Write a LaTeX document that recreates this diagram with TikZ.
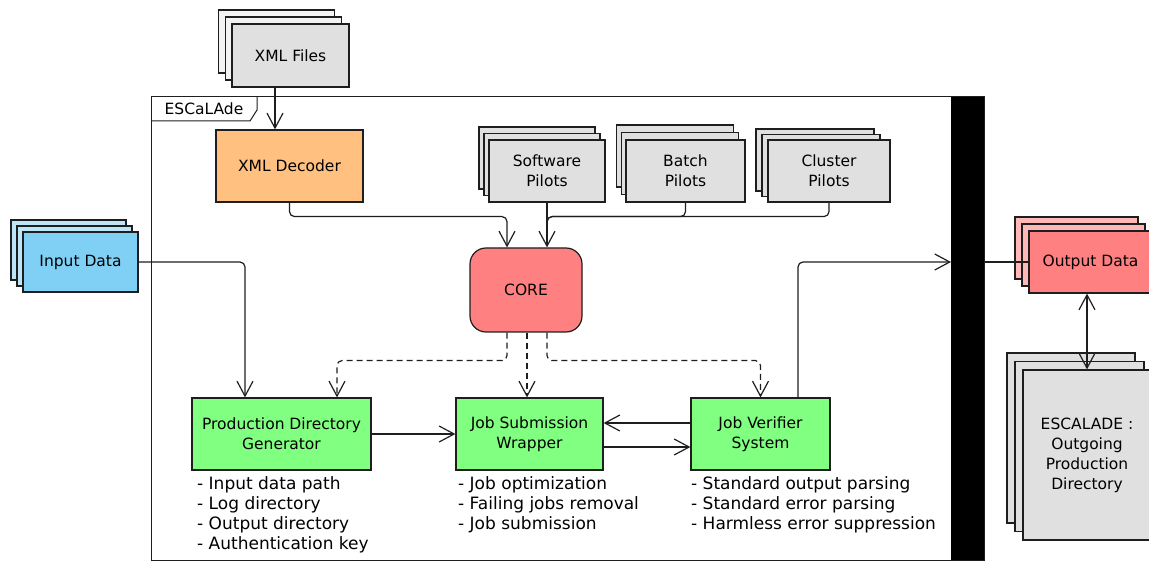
\documentclass[tikz,border=0pt]{standalone}
\usepackage{fontspec}
\setmainfont{DejaVu Sans}
\usetikzlibrary{arrows.meta}
\definecolor{grayfill}{HTML}{E0E0E0}
\definecolor{xmlback}{HTML}{F2F2F2}
\definecolor{bluefront}{HTML}{80D0F5}
\definecolor{blueback}{HTML}{BDE5F8}
\definecolor{redfront}{HTML}{FF8080}
\definecolor{redback}{HTML}{FFB8B8}
\definecolor{greenfill}{HTML}{80FF80}
\definecolor{orangefill}{HTML}{FFC080}
\definecolor{linecol}{HTML}{1E1E1E}
\begin{document}
\begin{tikzpicture}[x=1pt,y=1pt,
  box/.style={draw=linecol, line width=1.2pt, inner sep=0pt, align=center, font=\fontsize{15.5}{20}\selectfont},
  conn/.style={draw=linecol, line width=1.2pt, rounded corners=5pt},
  arr/.style={conn, -{Straight Barb[length=15pt,width=16pt]}},
  darr/.style={arr, dashed, dash pattern=on 6pt off 4pt},
  biarr/.style={conn, {Straight Barb[length=15pt,width=16pt]}-{Straight Barb[length=15pt,width=16pt]}},
  listtxt/.style={inner sep=0pt, align=left, anchor=north west, font=\fontsize{17}{20}\selectfont}
]
\useasboundingbox (0,0) rectangle (1149,-561);

% ESCaLAde frame
\draw[draw=linecol, line width=1pt] (151,-97) rectangle (984,-560);
\node[fill=black, inner sep=0pt, minimum width=33pt, minimum height=463pt, anchor=north west] (bar) at (951,-97) {};
\draw[draw=linecol, line width=1pt] (151,-121) -- (250,-121) -- (257,-110) -- (257,-97);
\node[inner sep=0pt, font=\fontsize{15.5}{20}\selectfont] (frametitle) at (204,-109) {ESCaLAde};

% XML Files
\node[box, fill=xmlback, minimum width=116pt, minimum height=63pt] (xmlf3) at (276.5,-41.5) {};
\node[box, fill=xmlback, minimum width=116pt, minimum height=63pt] (xmlf2) at (283.5,-48.5) {};
\node[box, fill=grayfill, minimum width=117pt, minimum height=63pt] (xmlf) at (290.5,-55.5) {XML Files};

% XML Decoder
\node[box, fill=orangefill, minimum width=147pt, minimum height=72pt] (dec) at (289.5,-166) {XML Decoder};

% Software Pilots
\node[box, fill=grayfill, minimum width=116pt, minimum height=62pt] (sw3) at (537,-158) {};
\node[box, fill=grayfill, minimum width=116pt, minimum height=62pt] (sw2) at (542,-164.5) {};
\node[box, fill=grayfill, minimum width=116pt, minimum height=62pt] (sw) at (547,-171) {Software\\Pilots};

% Batch Pilots
\node[box, fill=grayfill, minimum width=117pt, minimum height=62pt] (bp3) at (675,-156) {};
\node[box, fill=grayfill, minimum width=117pt, minimum height=62pt] (bp2) at (680,-163.5) {};
\node[box, fill=grayfill, minimum width=119pt, minimum height=62pt] (bp) at (685.5,-171) {Batch\\Pilots};

% Cluster Pilots
\node[box, fill=grayfill, minimum width=118pt, minimum height=62pt] (cp3) at (815,-160) {};
\node[box, fill=grayfill, minimum width=118pt, minimum height=62pt] (cp2) at (821,-165.5) {};
\node[box, fill=grayfill, minimum width=122pt, minimum height=62pt] (cp) at (829,-171) {Cluster\\Pilots};

% CORE
\node[box, fill=redfront, rounded corners=16pt, minimum width=112pt, minimum height=84pt] (core) at (526,-290) {CORE};

% Input Data
\node[box, fill=blueback, minimum width=115pt, minimum height=60pt] (in3) at (68.5,-250) {};
\node[box, fill=blueback, minimum width=115pt, minimum height=60pt] (in2) at (74.5,-256) {};
\node[box, fill=bluefront, minimum width=115pt, minimum height=60pt] (in) at (80.5,-262) {Input Data};

% Output Data
\node[box, fill=redback, minimum width=123pt, minimum height=62pt] (out3) at (1076.5,-248) {};
\node[box, fill=redback, minimum width=123pt, minimum height=62pt] (out2) at (1083.5,-255) {};
\node[box, fill=redfront, minimum width=123pt, minimum height=62pt] (out) at (1090.5,-262) {Output Data};

% ESCALADE outgoing directory
\node[box, fill=grayfill, minimum width=128pt, minimum height=170pt] (esc3) at (1071,-438) {};
\node[box, fill=grayfill, minimum width=129pt, minimum height=170pt] (esc2) at (1079.5,-446.5) {};
\node[box, fill=grayfill, minimum width=128pt, minimum height=170pt] (esc) at (1087,-455) {ESCALADE :\\Outgoing\\Production\\Directory};

% Green boxes
\node[box, fill=greenfill, minimum width=179pt, minimum height=72pt] (pdg) at (281.5,-434) {Production Directory\\Generator};
\node[box, fill=greenfill, minimum width=147pt, minimum height=72pt] (jsw) at (529.5,-434) {Job Submission\\Wrapper};
\node[box, fill=greenfill, minimum width=139pt, minimum height=72pt] (jvs) at (760.5,-434) {Job Verifier\\System};

% Lists
\node[listtxt] (pdglist) at (197,-476) {- Input data path\\- Log directory\\- Output directory\\- Authentication key};
\node[listtxt] (jswlist) at (458,-476) {- Job optimization\\- Failing jobs removal\\- Job submission};
\node[listtxt] (jvslist) at (691,-476) {- Standard output parsing\\- Standard error parsing\\- Harmless error suppression};

% Connectors
\draw[arr] ([xshift=-15.5pt]xmlf.south) -- ([xshift=-14.5pt]dec.north);
\draw[arr] (dec.south) -- ++(0,-14) -| ([xshift=-19pt]core.north);
\draw[arr] (sw.south) -- (sw.south |- core.north);
\draw[conn] (bp.south) -- ++(0,-14) -| ([yshift=-26pt]sw.south);
\draw[conn] (cp.south) -- ++(0,-14) -| ([yshift=-26pt]sw.south);
\draw[arr] (in.east) -| ([xshift=-36.5pt]pdg.north);

\draw[darr] ([xshift=-19pt]core.south) -- ++(0,-28) -| ([xshift=55.5pt]pdg.north);
\draw[darr] ([xshift=1pt]core.south) -- ([xshift=1pt]core.south |- jsw.north);
\draw[darr] ([xshift=21pt]core.south) -- ++(0,-28) -| (jvs.north);

\draw[arr] (pdg.east) -- (jsw.west);
\draw[arr] ([yshift=11pt]jvs.west) -- ([yshift=11pt]jvs.west -| jsw.east);
\draw[arr] ([yshift=-13pt]jsw.east) -- ([yshift=-13pt]jsw.east -| jvs.west);
\draw[arr] ([xshift=37.5pt]jvs.north) |- (out.west -| bar.west);
\draw[conn] (out.west -| bar.east) -- (out.west);
\draw[biarr] ([xshift=-3.5pt]out.south) -- ([xshift=-3.5pt]out.south |- esc.north);
\end{tikzpicture}
\end{document}
